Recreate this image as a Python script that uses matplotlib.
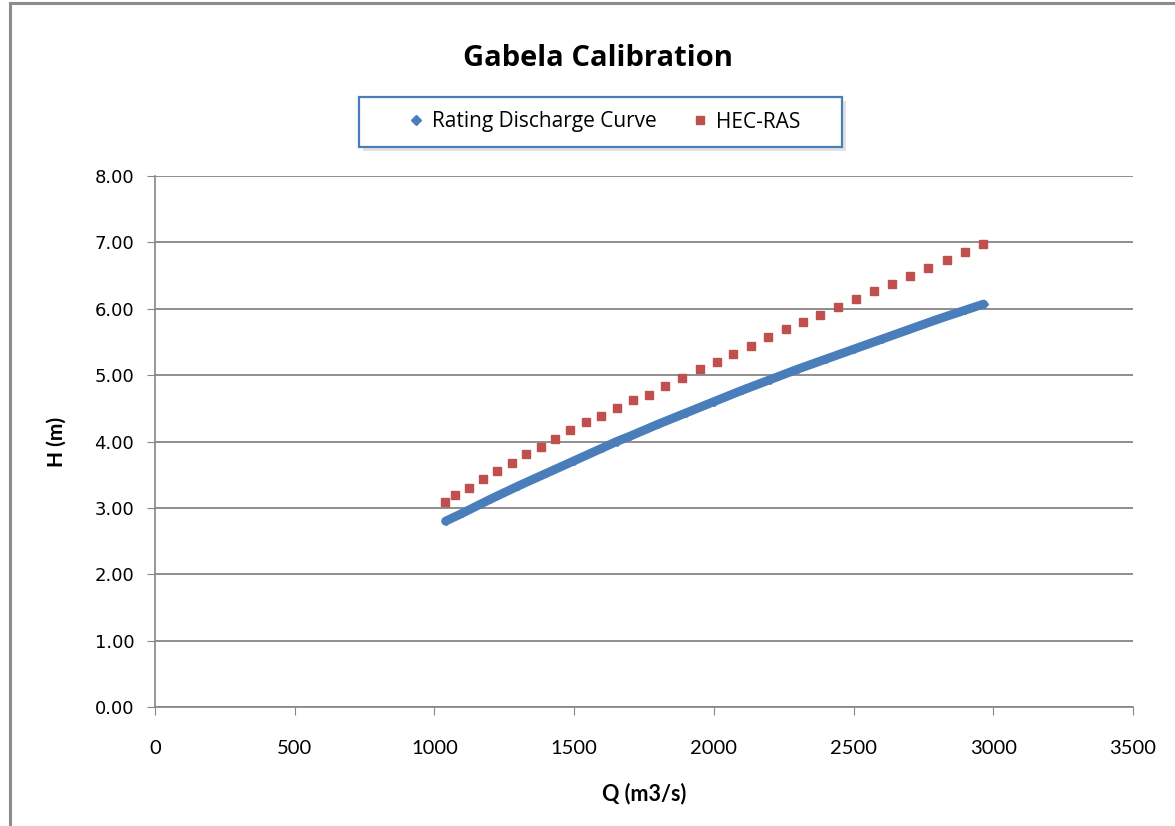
import matplotlib
matplotlib.use("Agg")
import matplotlib.pyplot as plt
from matplotlib.lines import Line2D
from matplotlib.patches import Rectangle

# Rating discharge curve
rating_q = [1040, 1100, 1200, 1300, 1400, 1500, 1600, 1652, 1700, 1800, 1900,
            2000, 2100, 2200, 2300, 2400, 2500, 2600, 2700, 2800, 2900, 2965]
rating_h = [2.80, 2.92, 3.13, 3.33, 3.52, 3.71, 3.90, 4.00, 4.08, 4.26, 4.43,
            4.60, 4.77, 4.93, 5.09, 5.24, 5.39, 5.54, 5.69, 5.84, 5.98, 6.07]

# HEC-RAS results
hec_q = [1037, 1072, 1124, 1173, 1225, 1277, 1328, 1381, 1430, 1486, 1541,
         1597, 1653, 1710, 1768, 1826, 1885, 1949, 2011, 2069, 2132, 2194,
         2258, 2320, 2381, 2445, 2510, 2573, 2638, 2702, 2766, 2835, 2899, 2962]
hec_h = [3.09, 3.19, 3.30, 3.43, 3.55, 3.67, 3.81, 3.91, 4.04, 4.17, 4.29,
         4.39, 4.51, 4.63, 4.70, 4.84, 4.96, 5.09, 5.20, 5.32, 5.44, 5.57,
         5.69, 5.80, 5.91, 6.03, 6.15, 6.26, 6.38, 6.50, 6.62, 6.74, 6.86, 6.98]

x_ticks = [0, 500, 1000, 1500, 2000, 2500, 3000, 3500]
y_ticks = [0, 1, 2, 3, 4, 5, 6, 7, 8]

title = "Gabela Calibration"
series_names = ["Rating Discharge Curve", "HEC-RAS"]

blue = "#4a7ebb"
red = "#c0504d"
grid_gray = "#868686"


def main():
	fig = plt.figure(figsize=(11.75, 8.26), dpi=100)
	W, H = 1175.0, 826.0

	# outer chart frame (only top/left visible in the crop)
	fig.add_artist(Line2D([10 / W, 1.0], [1 - 3 / H, 1 - 3 / H], color="#8c8c8c", lw=2.2))
	fig.add_artist(Line2D([10 / W, 10 / W], [0.0, 1 - 3 / H], color="#8c8c8c", lw=2.2))

	ax = fig.add_axes([155 / W, 1 - 707 / H, (1133 - 155) / W, (707 - 176) / H])

	ax.plot(rating_q, rating_h, color=blue, lw=6.4, marker="D", ms=4,
			solid_capstyle="round", solid_joinstyle="round", zorder=3)
	ax.plot(hec_q, hec_h, linestyle="none", marker="s", ms=6.0, color=red,
			markeredgecolor=red, zorder=4)

	ax.set_xlim(0, 3500)
	ax.set_ylim(0, 8)
	ax.set_xticks(x_ticks)
	ax.set_yticks(y_ticks)
	ax.set_yticklabels(["%.2f" % v for v in y_ticks], fontfamily="DejaVu Sans", fontsize=13)
	ax.set_xticklabels([str(v) for v in x_ticks], fontfamily="Lato", fontsize=14.5)

	ax.yaxis.grid(True, color=grid_gray, lw=1.3)
	ax.set_axisbelow(True)
	for side in ["top", "right"]:
		ax.spines[side].set_visible(False)
	for side in ["left", "bottom"]:
		ax.spines[side].set_color(grid_gray)
		ax.spines[side].set_linewidth(1.2)
	ax.tick_params(axis="y", length=6, color=grid_gray, pad=9)
	ax.tick_params(axis="x", length=6, color=grid_gray, pad=18)

	ax.set_xlabel("Q (m3/s)", fontfamily="Lato", fontweight="bold", fontsize=15.5)
	ax.xaxis.set_label_coords(0.5, -0.143)
	ax.set_ylabel("H (m)", fontfamily="Lato", fontweight="bold", fontsize=15)
	ax.yaxis.set_label_coords(-0.09, 0.5)

	fig.text(598 / W, 1 - 58 / H, title, ha="center", va="center",
			 fontfamily="Open Sans", fontweight="bold", fontsize=21)

	# legend box with a soft shadow
	lx0, ly0, lx1, ly1 = 359, 97, 842, 147
	fig.add_artist(Rectangle(((lx0 + 4) / W, 1 - (ly1 + 4) / H), (lx1 - lx0) / W, (ly1 - ly0) / H,
							 facecolor="#d0d0d0", edgecolor="none", alpha=0.6))
	fig.add_artist(Rectangle((lx0 / W, 1 - ly1 / H), (lx1 - lx0) / W, (ly1 - ly0) / H,
							 facecolor="white", edgecolor=blue, lw=1.6))
	handles = [Line2D([], [], linestyle="none", marker="D", ms=5, color=blue),
			   Line2D([], [], linestyle="none", marker="s", ms=6, color=red)]
	fig.legend(handles, series_names, loc="center", ncol=2,
			   bbox_to_anchor=(603 / W, 1 - 122 / H), frameon=False,
			   prop={"family": "Open Sans", "size": 15},
			   handlelength=1.0, handletextpad=0.25, columnspacing=1.6)

	fig.savefig("out.png", dpi=100, facecolor="white")


if __name__ == '__main__':
	main()
